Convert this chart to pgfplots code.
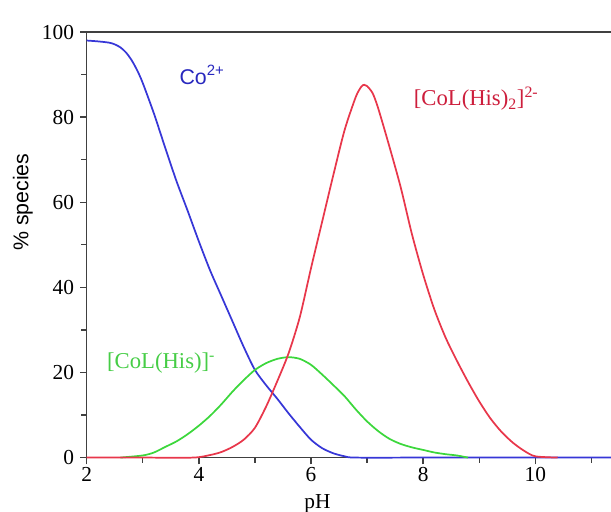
\documentclass[border=0pt]{standalone}
\usepackage{fontspec}
\setmainfont{Liberation Serif}
\setsansfont{Liberation Sans}
\usepackage{pgfplots}
\pgfplotsset{compat=1.18}
\usetikzlibrary{calc}

\definecolor{coblue}{RGB}{55,55,215}
\definecolor{cored}{RGB}{232,55,75}
\definecolor{cogreen}{RGB}{60,215,60}
\definecolor{labblue}{RGB}{40,40,190}
\definecolor{labred}{RGB}{205,30,60}
\definecolor{labgreen}{RGB}{70,205,70}

\begin{document}
\begin{tikzpicture}
\begin{axis}[
    scale only axis,
    width=393pt, height=319pt,
    xmin=2, xmax=11.35,
    ymin=0, ymax=100,
    axis x line=box,
    axis y line=left,
    axis line style={-, line width=1.1pt, black!75},
    xtick={2,4,6,8,10},
    minor xtick={3,5,7,9,11},
    ytick={0,20,40,60,80,100},
    minor ytick={10,30,50,70,90},
    xtick pos=left, ytick pos=left,
    tick align=outside,
    major tick length=5pt,
    minor tick length=4pt,
    tick style={line width=1pt, black!75},
    /pgf/number format/assume math mode=true,
    ticklabel style={font=\rmfamily\fontsize{16}{18}\selectfont},
    xticklabel style={yshift=1pt},
    yticklabel style={xshift=-1pt},
    xlabel={pH},
    xlabel style={font=\rmfamily\fontsize{16}{18}\selectfont, at={(rel axis cs:0.44,0)}, anchor=north, yshift=-24pt},
    ylabel={\% species},
    ylabel style={font=\sffamily\fontsize{16}{18}\selectfont, at={(rel axis cs:-0.122,0.6)}, anchor=center},
    clip=false,
]
% Co2+
\addplot[coblue, line width=1.3pt, smooth, tension=0.45] coordinates {
(2.0,98.0) (2.2,97.8) (2.4,97.5) (2.5,97.1) (2.6,96.4) (2.7,95.2)
(2.8,93.4) (2.9,91.0) (3.0,88.0)
(3.2,80.8) (3.4,72.8) (3.6,65.0) (3.8,58.0) (4.0,50.8) (4.2,44.0)
(4.4,38.0) (4.6,32.0) (4.8,26.0) (5.0,20.6) (5.2,17.0) (5.4,13.8)
(5.6,10.4) (5.8,7.2) (6.0,4.2) (6.2,2.2) (6.4,1.0) (6.6,0.3)
(6.8,0) (8,0) (10,0) (11.35,0)
};
% [CoL(His)]-
\addplot[cogreen, line width=1.3pt, smooth, tension=0.45] coordinates {
(2.6,0) (3.0,0.5) (3.2,1.2) (3.4,2.5) (3.6,3.8) (3.8,5.5) (4.0,7.5)
(4.2,9.8) (4.4,12.5) (4.6,15.5) (4.8,18.2) (5.0,20.6) (5.2,22.2)
(5.4,23.2) (5.6,23.6) (5.8,23.2) (6.0,21.8) (6.2,19.5) (6.4,17.0)
(6.6,14.4) (6.8,11.3) (7.0,8.5) (7.2,6.2) (7.4,4.4) (7.6,3.2)
(7.8,2.4) (8.0,1.8) (8.2,1.2) (8.4,0.8) (8.6,0.5) (8.8,0)
};
% [CoL(His)2]2-
\addplot[cored, line width=1.3pt, smooth, tension=0.45] coordinates {
(2.0,0) (3.0,0) (3.9,0) (4.2,0.6) (4.4,1.3) (4.6,2.5) (4.8,4.2)
(5.0,7.0) (5.2,12.0) (5.4,18.0) (5.6,24.5) (5.8,33.0) (6.0,44.5)
(6.2,55.5) (6.4,66.5) (6.6,77.0) (6.8,84.8) (6.9,87.2) (6.95,87.6) (7.0,87.3)
(7.1,85.6) (7.2,82.0) (7.4,73.0) (7.6,63.5) (7.8,52.5) (8.0,43.0)
(8.2,34.8) (8.4,28.2) (8.6,22.8) (8.8,17.8) (9.0,13.2) (9.2,9.2)
(9.4,6.0) (9.6,3.5) (9.8,1.6) (10.0,0.3) (10.4,0)
};
\node[anchor=west, text=labblue, font=\sffamily\fontsize{16}{18}\selectfont, inner sep=0pt]
  at (axis cs:3.65,89.9) {Co\textsuperscript{2+}};
\node[anchor=west, text=labred, font=\fontsize{17}{19}\selectfont, inner sep=0pt]
  at (axis cs:7.83,84.3) {[CoL(His)\textsubscript{2}]\textsuperscript{2-}};
\node[anchor=west, text=labgreen, font=\fontsize{17}{19}\selectfont, inner sep=0pt]
  at (axis cs:2.36,22.2) {[CoL(His)]\textsuperscript{-}};
\end{axis}
\pgfresetboundingbox
\path[use as bounding box] ($(current axis.south west)+(-65pt,-40.5pt)$) rectangle ($(current axis.north east)+(0pt,24pt)$);
\end{tikzpicture}
\end{document}
